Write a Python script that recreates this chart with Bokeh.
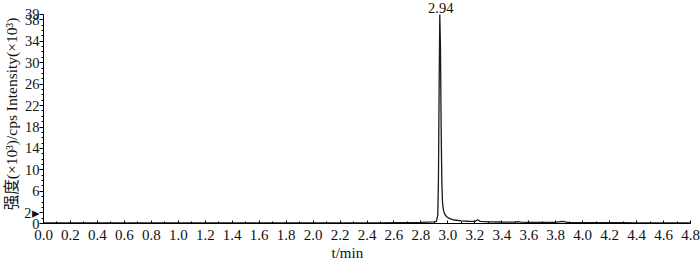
from bokeh.plotting import figure
from bokeh.models import FixedTicker, Label, Range1d, Title
from bokeh.embed import file_html
from bokeh.resources import INLINE

# Chromatogram (time in min, intensity in x10^3 cps)
time_min = [0.00, 0.10, 0.20, 0.30, 0.40, 0.50, 0.60, 0.70, 0.80, 0.90,
            1.00, 1.10, 1.20, 1.30, 1.40, 1.50, 1.60, 1.70, 1.80, 1.90,
            2.00, 2.10, 2.20, 2.30, 2.40, 2.50, 2.60, 2.70, 2.80, 2.85,
            2.90, 2.915, 2.925, 2.930, 2.935, 2.940, 2.945, 2.950, 2.955, 2.960,
            2.965, 2.970, 2.980, 2.990, 3.000, 3.020, 3.050, 3.100, 3.150, 3.200,
            3.220, 3.240, 3.300, 3.400, 3.500, 3.520, 3.540, 3.600, 3.700, 3.800,
            3.850, 3.900, 4.000, 4.100, 4.200, 4.300, 4.400, 4.500, 4.600, 4.700, 4.800]
intensity_k = [0.10, 0.12, 0.10, 0.11, 0.10, 0.12, 0.11, 0.10, 0.12, 0.10,
               0.11, 0.10, 0.12, 0.11, 0.10, 0.11, 0.12, 0.10, 0.11, 0.10,
               0.12, 0.11, 0.10, 0.12, 0.11, 0.13, 0.14, 0.16, 0.20, 0.25,
               0.30, 0.40, 1.50, 8.00, 25.0, 39.0, 33.0, 18.0, 8.00, 4.00,
               2.80, 2.20, 1.60, 1.30, 1.10, 0.85, 0.65, 0.50, 0.42, 0.38,
               0.70, 0.40, 0.32, 0.28, 0.25, 0.35, 0.24, 0.22, 0.20, 0.22,
               0.40, 0.18, 0.16, 0.15, 0.14, 0.14, 0.13, 0.13, 0.12, 0.12, 0.12]

peak_time = 2.94
peak_label = "2.94"
threshold_k = 2

x_ticks = [round(0.2 * i, 1) for i in range(25)]
x_minor = [round(0.1 * i, 1) for i in range(49)]
y_ticks = [0, 2, 6, 10, 14, 18, 22, 26, 30, 34, 38, 39]
y_minor = list(range(0, 40))
y_axis_top = 39

FONT = "'Liberation Serif', 'Noto Sans CJK SC', serif"

p = figure(width=700, height=261, output_backend="svg", toolbar_location=None,
           x_range=Range1d(0, 4.8), y_range=Range1d(0, 41.6),
           min_border_left=43, min_border_right=10, min_border_top=0,
           min_border_bottom=38)
p.outline_line_color = None
p.xgrid.grid_line_color = None
p.ygrid.grid_line_color = None
p.background_fill_color = "white"
p.border_fill_color = "white"

p.line(time_min, intensity_k, line_color="#1a1a1a", line_width=1.3)

# x axis
xa = p.xaxis[0]
xa.ticker = FixedTicker(ticks=x_ticks, minor_ticks=x_minor)
xa.major_label_overrides = {t: f"{t:.1f}" for t in x_ticks}
xa.major_tick_in = 3
xa.major_tick_out = 0
xa.minor_tick_in = 2
xa.minor_tick_out = 0
xa.major_label_standoff = 6
xa.major_label_text_font = FONT
xa.major_label_text_font_size = "15px"
xa.major_label_text_color = "#111111"
xa.axis_line_color = "black"
xa.major_tick_line_color = "black"
xa.minor_tick_line_color = "black"

# y axis
ya = p.yaxis[0]
ya.ticker = FixedTicker(ticks=y_ticks, minor_ticks=y_minor)
ya.bounds = (0, y_axis_top)
ya.major_label_overrides = {threshold_k: f"{threshold_k}▸"}
ya.major_tick_in = 0
ya.major_tick_out = 4
ya.minor_tick_in = 0
ya.minor_tick_out = 2
ya.major_label_standoff = 0
ya.major_label_text_font = FONT
ya.major_label_text_font_size = "14.5px"
ya.major_label_text_color = "#111111"
ya.axis_label = "强度(×10³)/cps  Intensity(×10³)"
ya.axis_label_text_font = FONT
ya.axis_label_text_font_size = "15.5px"
ya.axis_label_text_font_style = "normal"
ya.axis_label_text_color = "#111111"
ya.axis_label_standoff = 1
ya.axis_line_color = "black"
ya.major_tick_line_color = "black"
ya.minor_tick_line_color = "black"

# peak annotation
peak_y = max(intensity_k)
p.add_layout(Label(x=peak_time, y=peak_y, text=peak_label, text_align="center",
                   text_baseline="bottom", y_offset=1, x_offset=1, text_font=FONT,
                   text_font_size="14.5px", text_color="#111111"))

# x axis title
p.add_layout(Title(text="t/min", align="left", offset=288, standoff=0,
                   text_font=FONT, text_font_size="15px",
                   text_font_style="normal", text_color="#111111"), "below")

open("out.html", "w").write(file_html(p, INLINE))
